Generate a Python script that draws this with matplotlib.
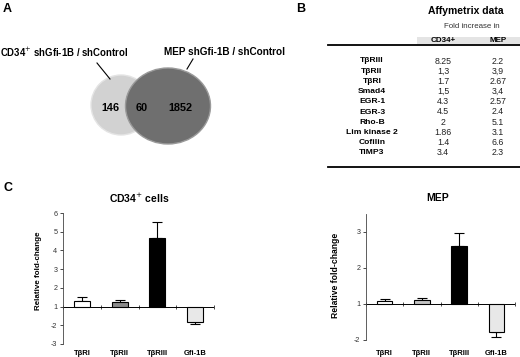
import matplotlib
matplotlib.use("Agg")
import matplotlib.pyplot as plt
from matplotlib.patches import Ellipse, Rectangle
import numpy as np

plt.rcParams['font.family'] = ['Liberation Sans', 'DejaVu Sans']

# panel A
venn_counts = [146, 60, 1852]
venn_labels = ["CD34$^{+}$ shGfi-1B / shControl", "MEP shGfi-1B / shControl"]

# panel B
genes = ["TβRIII", "TβRII", "TβRI", "Smad4", "EGR-1", "EGR-3", "Rho-B",
         "Lim kinase 2", "Cofilin", "TIMP3"]
cd34_fold = ["8.25", "1,3", "1.7", "1,5", "4.3", "4.5", "2", "1.86", "1.4", "3.4"]
mep_fold = ["2.2", "3,9", "2.67", "3,4", "2.57", "2.4", "5.1", "3.1", "6.6", "2.3"]

# panel C
bar_labels = ["TβRI", "TβRII", "TβRIII", "Gfi-1B"]
cd34_vals = [1.3, 1.24, 4.66, -1.8]
cd34_err = [0.22, 0.13, 0.86, 0.13]
mep_vals = [1.08, 1.1, 2.6, -1.78]
mep_err = [0.06, 0.08, 0.38, 0.14]
cd34_colors = ["white", "#8a8a8a", "black", "#e8e8e8"]
mep_colors = ["white", "#c4c4c4", "black", "#e8e8e8"]

W, H = 520, 357
fig = plt.figure(figsize=(W / 100, H / 100), dpi=100)

# pixel canvas for A and B
bg = fig.add_axes([0, 0, 1, 1])
bg.set_xlim(0, W)
bg.set_ylim(H, 0)
bg.axis('off')

bold = dict(fontweight='bold')
bg.text(3, 9, "A", fontsize=9, va='center', **bold)
bg.text(296, 9, "B", fontsize=9, va='center', **bold)
bg.text(3, 188, "C", fontsize=9, va='center', **bold)

# venn
bg.add_patch(Ellipse((121, 105), 60, 60, fc="#d2d2d2", ec="#e4e4e4", lw=1, zorder=2))
bg.add_patch(Ellipse((168, 106), 85, 76, fc="#6f6f6f", ec="#9a9a9a", lw=1, zorder=3))
for x, n in zip([110, 142, 180], venn_counts):
    bg.text(x, 108, str(n), fontsize=7.8, ha='center', va='center', zorder=4, **bold)
bg.text(0, 52, venn_labels[0], fontsize=6.9, va='center', **bold)
bg.text(164, 52, venn_labels[1], fontsize=7.2, va='center', **bold)
bg.plot([97, 110], [63, 79], color='black', lw=0.8)
bg.plot([193, 187], [59, 69], color='black', lw=0.8)

# table
bg.text(466, 11, "Affymetrix data", fontsize=7.5, ha='center', va='center', **bold)
bg.text(472, 26, "Fold increase in", fontsize=5.7, ha='center', va='center', color='#333333')
bg.add_patch(Rectangle((417, 36.5), 103, 7, fc="#e4e4e4", ec='none'))
bg.text(443, 40, "CD34+", fontsize=5.8, ha='center', va='center', **bold)
bg.text(498, 40, "MEP", fontsize=5.8, ha='center', va='center', **bold)
bg.plot([328, 520], [45, 45], color='black', lw=1.3)
bg.plot([328, 520], [167, 167], color='black', lw=1.3)
for i, g in enumerate(genes):
    y = 61 + i * 10.2
    bg.text(372, y, g, fontsize=6.1, ha='center', va='center', **bold)
    bg.text(443, y, cd34_fold[i], fontsize=6.3, ha='center', va='center', color='#222222')
    bg.text(498, y, mep_fold[i], fontsize=6.3, ha='center', va='center', color='#222222')


def pos(v):
    # fold-change axis: values >= 1 plotted as is, values <= -1 shifted up by 2
    return v if v >= 1 else v + 2


def bar_panel(rect, vals, errs, colors, ylim, ticks, title, title_xy, ylab_xy, ylab_fs, pad):
    ax = fig.add_axes(rect)
    x = np.arange(len(vals)) + 0.5
    p = np.array([pos(v) for v in vals])
    ax.bar(x, p - 1, bottom=1, width=0.42, color=colors, edgecolor='black', lw=0.8, zorder=3)
    for xi, pi, e in zip(x, p, errs):
        lo, hi = (0, e) if pi >= 1 else (e, 0)
        ax.errorbar(xi, pi, yerr=[[lo], [hi]], color='black', lw=0.8, capsize=3.5,
                    capthick=0.8, zorder=2)
    ax.set_xlim(0, len(vals))
    ax.set_ylim(*ylim)
    ax.axhline(1, color='black', lw=0.7, zorder=1)
    ax.plot(np.arange(len(vals) + 1), np.ones(len(vals) + 1), ls='none', marker='|',
            ms=2.5, mew=0.5, color='black')
    for s in ['top', 'right', 'bottom']:
        ax.spines[s].set_visible(False)
    ax.spines['left'].set_linewidth(0.6)
    ax.spines['left'].set_color('#444444')
    ax.set_yticks([pos(t) for t in ticks])
    ax.set_yticklabels([str(t) for t in ticks], fontsize=5.2, color='#333333')
    ax.tick_params(axis='y', length=2, width=0.5, pad=2)
    ax.set_xticks(x)
    ax.set_xticklabels(bar_labels, fontsize=5.5, fontweight='bold')
    ax.tick_params(axis='x', length=0, pad=pad)
    ax.set_ylabel("Relative fold-change", fontsize=ylab_fs, fontweight='bold')
    ax.yaxis.set_label_coords(*ylab_xy)
    ax.patch.set_alpha(0)
    fig.text(title_xy[0] / W, 1 - title_xy[1] / H, title, fontsize=7.5, ha='center',
             va='center', fontweight='bold')
    return ax


bar_panel([63 / W, 1 - 344 / H, 151 / W, 131 / H], cd34_vals, cd34_err, cd34_colors,
          (-1, 6), [-3, -2, 1, 2, 3, 4, 5, 6], "CD34$^{+}$ cells", (139, 198),
          (-21 / 151, 0.557), 5.8, 4.5)
bar_panel([366 / W, 1 - 340 / H, 149 / W, 126 / H], mep_vals, mep_err, mep_colors,
          (0, 3.5), [-2, 1, 2, 3], "MEP", (438, 198), (-26 / 149, 0.516), 6.2, 7.5)

fig.savefig("out.png", dpi=100)
